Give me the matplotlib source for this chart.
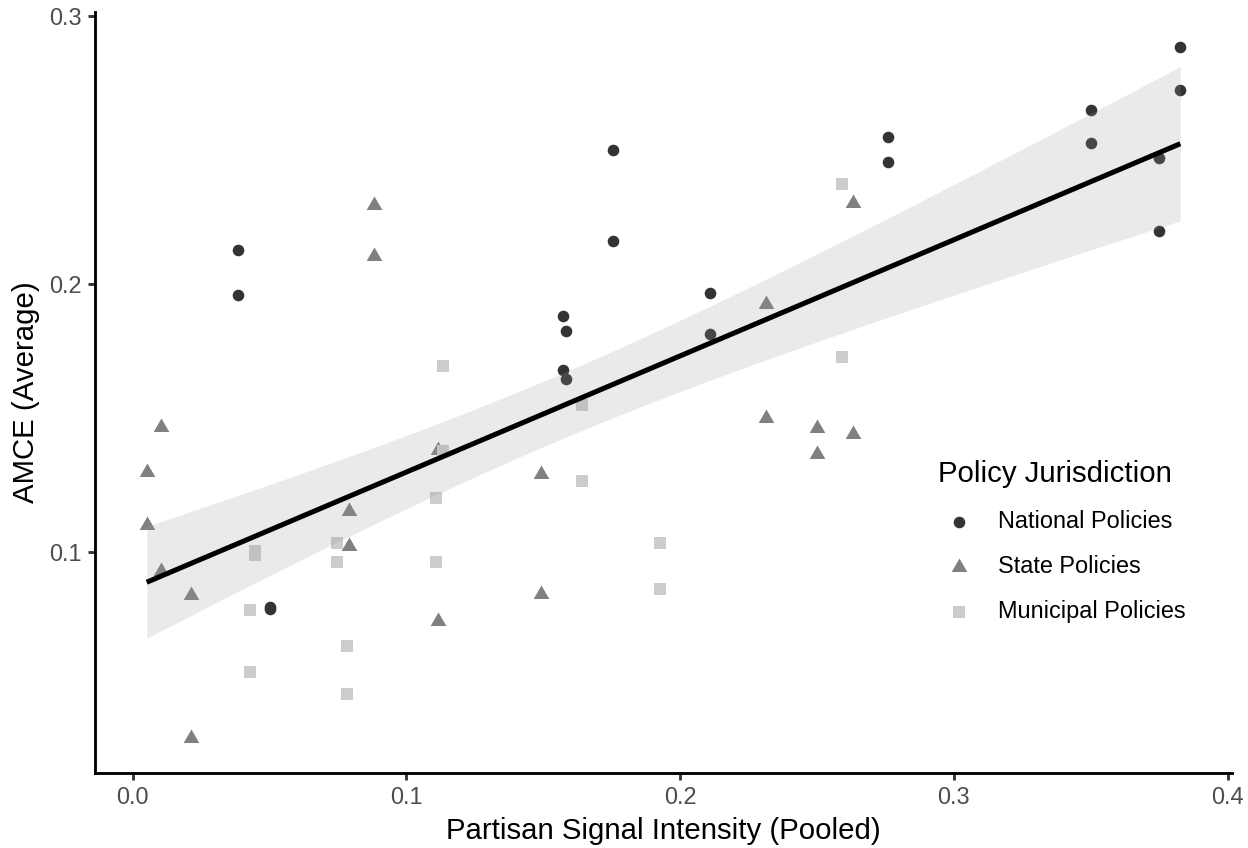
import numpy as np
import matplotlib
matplotlib.use("Agg")
import matplotlib.pyplot as plt

plt.rcParams['font.family'] = ['Liberation Sans', 'DejaVu Sans']

# ---------------- data ----------------
nat_x = [0.0385, 0.0385, 0.0501, 0.0501, 0.1571, 0.1571, 0.1582, 0.1582, 0.1756, 0.1756,
         0.2109, 0.2109, 0.2758, 0.2758, 0.3499, 0.3499, 0.3749, 0.3749, 0.3827, 0.3827]
nat_y = [0.2127, 0.1958, 0.0795, 0.0788, 0.1879, 0.1680, 0.1826, 0.1646, 0.2499, 0.2159,
         0.1968, 0.1815, 0.2548, 0.2455, 0.2649, 0.2525, 0.2470, 0.2196, 0.2885, 0.2725]

state_x = [0.0051, 0.0051, 0.0103, 0.0103, 0.0213, 0.0213, 0.0791, 0.0791, 0.0881, 0.0881,
           0.1116, 0.1116, 0.1493, 0.1493, 0.2312, 0.2312, 0.2498, 0.2498, 0.2633, 0.2633]
state_y = [0.1300, 0.1100, 0.1468, 0.0930, 0.0840, 0.0306, 0.1155, 0.1023, 0.2296, 0.2105,
           0.1382, 0.0743, 0.1291, 0.0846, 0.1924, 0.1500, 0.1462, 0.1368, 0.2303, 0.1440]

mun_x = [0.0430, 0.0430, 0.0448, 0.0448, 0.0748, 0.0748, 0.0781, 0.0781, 0.1107, 0.1107,
         0.1132, 0.1132, 0.1641, 0.1641, 0.1925, 0.1925, 0.2590, 0.2590]
mun_y = [0.0785, 0.0555, 0.1005, 0.0990, 0.1033, 0.0963, 0.0651, 0.0470, 0.1204, 0.0963,
         0.1695, 0.1378, 0.1549, 0.1265, 0.1033, 0.0863, 0.2373, 0.1727]

groups = ['National Policies', 'State Policies', 'Municipal Policies']

# ---------------- linear fit with 95% band (like geom_smooth(method="lm")) ----------------
x_all = np.array(nat_x + state_x + mun_x)
y_all = np.array(nat_y + state_y + mun_y)
n = len(x_all)
b1, b0 = np.polyfit(x_all, y_all, 1)
resid = y_all - (b0 + b1 * x_all)
s = np.sqrt(np.sum(resid ** 2) / (n - 2))
t_crit = 2.003  # t(0.975, df=56)
xs = np.linspace(x_all.min(), x_all.max(), 80)
ys = b0 + b1 * xs
se = s * np.sqrt(1 / n + (xs - x_all.mean()) ** 2 / np.sum((x_all - x_all.mean()) ** 2))

# ---------------- figure ----------------
W, H = 1248, 848
fig = plt.figure(figsize=(W / 192, H / 192), dpi=192)
ax = fig.add_axes([95 / W, 1 - 773 / H, (1232 - 95) / W, (773 - 12) / H])

tri = [(-1, -0.5774), (1, -0.5774), (0, 1.1547)]
ax.scatter(nat_x, nat_y, s=19, marker='o', color='#333333', linewidths=0,
           label=groups[0], zorder=2)
ax.scatter(state_x, state_y, s=46, marker=tri, color='#808080', linewidths=0,
           label=groups[1], zorder=2)
ax.scatter(mun_x, mun_y, s=20, marker='s', color='#cccccc', linewidths=0,
           label=groups[2], zorder=2)

# ribbon is drawn over the points, as in the original
ax.fill_between(xs, ys - t_crit * se, ys + t_crit * se, color='#999999', alpha=0.2,
                linewidth=0, zorder=3)
ax.plot(xs, ys, color='black', linewidth=1.9, zorder=4, solid_capstyle='butt')

# axis limits: 5% expansion as in ggplot
xr = x_all.max() - x_all.min()
yr = y_all.max() - y_all.min()
ax.set_xlim(x_all.min() - 0.05 * xr, x_all.max() + 0.05 * xr)
ax.set_ylim(y_all.min() - 0.05 * yr, y_all.max() + 0.05 * yr)

ax.set_xticks([0.0, 0.1, 0.2, 0.3, 0.4])
ax.set_yticks([0.1, 0.2, 0.3])
ax.set_xticklabels(['0.0', '0.1', '0.2', '0.3', '0.4'])
ax.set_yticklabels(['0.1', '0.2', '0.3'])

for side in ['top', 'right']:
    ax.spines[side].set_visible(False)
for side in ['left', 'bottom']:
    ax.spines[side].set_linewidth(1.07)
    ax.spines[side].set_color('black')

ax.tick_params(length=2.75, width=1.07, color='#333333', pad=2.2,
               labelsize=8.8, labelcolor='#4d4d4d')

ax.set_xlabel('Partisan Signal Intensity (Pooled)', fontsize=11, labelpad=2.75)
ax.set_ylabel('AMCE (Average)', fontsize=11, labelpad=3.5)

leg = ax.legend(title='Policy Jurisdiction', loc='upper left',
                bbox_to_anchor=(937.7 / W, 1 - 460 / H), bbox_transform=fig.transFigure,
                frameon=False, fontsize=8.8, title_fontsize=11, alignment='left',
                borderpad=0, borderaxespad=0, handlelength=1.84, handletextpad=0.72,
                labelspacing=0.94)

fig.savefig('out.png', dpi=192)
